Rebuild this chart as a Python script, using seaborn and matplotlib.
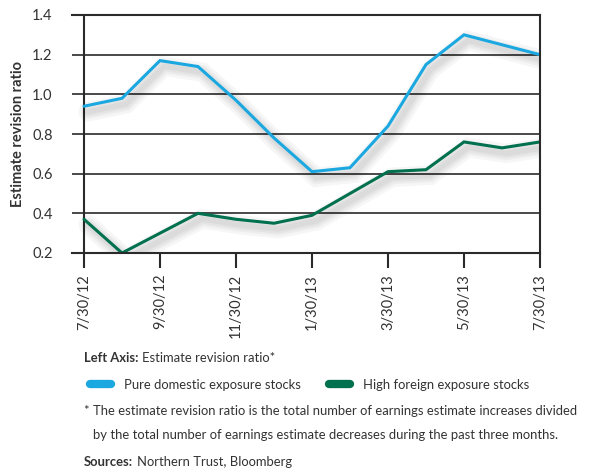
import matplotlib
matplotlib.use("Agg")
import matplotlib.pyplot as plt
import matplotlib.patheffects as pe
from matplotlib.lines import Line2D
import pandas as pd
import seaborn as sns

# Monthly observation dates (end of month, Jul 2012 - Jul 2013)
dates = ["7/30/12", "8/30/12", "9/30/12", "10/30/12", "11/30/12", "12/30/12",
         "1/30/13", "2/28/13", "3/30/13", "4/30/13", "5/30/13", "6/30/13", "7/30/13"]
domestic = [0.94, 0.98, 1.17, 1.14, 0.97, 0.78, 0.61, 0.63, 0.84, 1.15, 1.30, 1.25, 1.20]
foreign = [0.37, 0.20, 0.30, 0.40, 0.37, 0.35, 0.39, 0.50, 0.61, 0.62, 0.76, 0.73, 0.76]
tick_labels = ["7/30/12", "9/30/12", "11/30/12", "1/30/13", "3/30/13", "5/30/13", "7/30/13"]
y_ticks = [0.2, 0.4, 0.6, 0.8, 1.0, 1.2, 1.4]

series_names = ["Pure domestic exposure stocks", "High foreign exposure stocks"]
colors = {"Pure domestic exposure stocks": "#1BA8E0",
          "High foreign exposure stocks": "#00704E"}

df = pd.concat([
    pd.DataFrame({"idx": range(len(dates)), "date": dates, "value": domestic,
                  "series": series_names[0]}),
    pd.DataFrame({"idx": range(len(dates)), "date": dates, "value": foreign,
                  "series": series_names[1]}),
])

sns.set_theme(style="white")
plt.rcParams["font.family"] = ["Lato", "DejaVu Sans"]
text_color = "#333333"
note_size = 9.4

W, H = 613, 472
fig = plt.figure(figsize=(W / 100, H / 100), dpi=100)

# axes box: left edge extends 12px beyond the x=0 vertical so gridlines stick out
left_px, right_px, top_px, bottom_px = 72, 540, 15, 253
ax = fig.add_axes([left_px / W, 1 - bottom_px / H,
                   (right_px - left_px) / W, (bottom_px - top_px) / H])

sns.lineplot(data=df, x="idx", y="value", hue="series", palette=colors,
             linewidth=2.2, legend=False, ax=ax, sort=False)

shadow = [pe.SimpleLineShadow(offset=(3, -4), shadow_color="#000000", alpha=0.035, linewidth=lw)
          for lw in (14, 10, 7, 4)] + [pe.Normal()]
for ln in ax.get_lines():
    ln.set_path_effects(shadow)
    ln.set_solid_joinstyle("miter")

n = len(dates) - 1
units_per_px = n / (right_px - (left_px + 12))
ax.set_xlim(-12 * units_per_px, n)
ax.set_ylim(0.2, 1.4)

ax.set_yticks(y_ticks)
ax.set_yticklabels([f"{v:.1f}" for v in y_ticks], color=text_color, fontsize=10.5)
for v in y_ticks:
    ax.axhline(v, color="#2a2a2a", linewidth=1.2, zorder=0.5)
ax.axvline(0, color="#2a2a2a", linewidth=1.5, zorder=0.6)

tick_pos = [dates.index(t) for t in tick_labels]
ax.set_xticks(tick_pos)
ax.set_xticklabels(tick_labels, rotation=90, color=text_color, fontsize=10.5,
                   va="top")
ax.tick_params(axis="x", which="major", bottom=True, length=11, width=1.5,
               color="#2a2a2a", pad=4)
ax.tick_params(axis="y", left=False, pad=8)

ax.spines["left"].set_visible(False)
for s in ["top", "bottom", "right"]:
    ax.spines[s].set_visible(True)
    ax.spines[s].set_color("#2a2a2a")
    ax.spines[s].set_linewidth(1.5)

ax.set_xlabel("")
ax.set_ylabel("Estimate revision ratio", fontsize=10.5, fontweight="bold",
              color=text_color)
ax.yaxis.set_label_coords(-0.1, 0.5)

# notes beneath the chart
def fx(px):
    return px / W

def fy(px):
    return 1 - px / H

renderer = fig.canvas.get_renderer()

def bold_lead(x_px, y_px, lead, rest):
    t = fig.text(fx(x_px), fy(y_px), lead, fontsize=note_size, fontweight="bold",
                 color=text_color, va="center")
    bb = t.get_window_extent(renderer=renderer)
    fig.text(fx(bb.x1 + 4), fy(y_px), rest, fontsize=note_size,
             color=text_color, va="center")

bold_lead(84, 358, "Left Axis:", "Estimate revision ratio*")

handles = [Line2D([0], [0], color=colors[s], linewidth=6, solid_capstyle="round")
           for s in series_names]
fig.legend(handles, series_names, loc="center left",
           bbox_to_anchor=(fx(78), fy(385)), ncol=2, frameon=False,
           fontsize=note_size, handlelength=1.6, handletextpad=1.0,
           columnspacing=2.2, labelcolor=text_color)

fig.text(fx(84), fy(411),
         "* The estimate revision ratio is the total number of earnings estimate increases divided",
         fontsize=note_size, color=text_color, va="center")
fig.text(fx(93), fy(435),
         "by the total number of earnings estimate decreases during the past three months.",
         fontsize=note_size, color=text_color, va="center")
bold_lead(84, 462, "Sources:", "Northern Trust, Bloomberg")

fig.savefig("out.png", dpi=100)
